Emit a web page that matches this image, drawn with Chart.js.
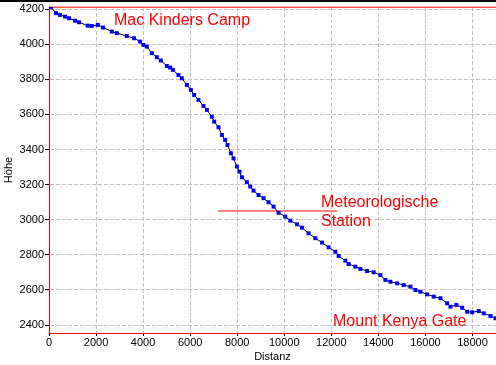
<!DOCTYPE html>
<html>
<head>
<meta charset="utf-8">
<script src="https://cdn.jsdelivr.net/npm/chart.js@4"></script>
<style>
  html, body { margin: 0; padding: 0; background: #fff; }
  canvas { display: block; }
</style>
</head>
<body>
<canvas id="profil" width="496" height="365"></canvas>
<script>
// Höhenprofil: Distanz (m) und Höhe (m)
const distanz = [85, 298, 468, 681, 851, 1106, 1277, 1647, 1817, 2072, 2298, 2668, 2881, 3306, 3617,
  3872, 4013, 4157, 4370, 4583, 4753, 5009, 5149, 5264, 5502, 5647, 5860, 6030, 6170, 6353,
  6566, 6711, 6923, 7021, 7204, 7349, 7489, 7587, 7732, 7843, 7987, 8098, 8200, 8413, 8553,
  8694, 8906, 9119, 9332, 9545, 9757, 10043, 10255, 10540, 10753, 11034, 11319, 11604, 11885, 12170,
  12311, 12596, 12736, 13021, 13234, 13519, 13800, 14085, 14298, 14511, 14796, 15077, 15362, 15574, 15787,
  16072, 16353, 16638, 16923, 17064, 17319, 17562, 17775, 17987, 18268, 18481, 18766, 18979];
const hoehe = [4211, 4177, 4167, 4157, 4148, 4134, 4125, 4106, 4104, 4110, 4095, 4072, 4063, 4047, 4034,
  4015, 3996, 3986, 3949, 3926, 3907, 3876, 3867, 3854, 3825, 3806, 3768, 3740, 3711, 3683,
  3648, 3626, 3587, 3559, 3527, 3483, 3455, 3426, 3379, 3350, 3303, 3274, 3242, 3214, 3189,
  3166, 3141, 3123, 3100, 3075, 3040, 3018, 2995, 2974, 2955, 2923, 2895, 2870, 2843, 2818,
  2794, 2767, 2748, 2733, 2720, 2708, 2701, 2685, 2657, 2647, 2638, 2628, 2619, 2600, 2590,
  2575, 2562, 2553, 2524, 2505, 2515, 2499, 2476, 2473, 2480, 2467, 2452, 2439];

// Wegpunkte (Höhe und Bereich der Markierungslinie)
const wegpunkte = ['Mac Kinders Camp', 'Meteorologische Station', 'Mount Kenya Gate'];
const wegpunktHoehe = [4211, 3050, 2355];
const wegpunktVon = [0, 7190, 0];
const wegpunktBis = [19000, 12260, 19000];

// Achsen
const xTicks = [0, 2000, 4000, 6000, 8000, 10000, 12000, 14000, 16000, 18000];
const yTicks = [2400, 2600, 2800, 3000, 3200, 3400, 3600, 3800, 4000, 4200];
const xMin = 0, xMax = 19000;
const yMin = 2355, yMax = 4212;

const font = '"Liberation Sans", Arial, sans-serif';

const profil = {
  label: 'Höhe',
  data: distanz.map((d, i) => ({ x: d, y: hoehe[i] })),
  borderColor: '#000',
  borderWidth: 1,
  pointStyle: 'rect',
  pointRadius: 2.8,
  pointBorderWidth: 0,
  pointBackgroundColor: '#0000ff',
  tension: 0
};

const markierungen = wegpunkte.slice(0, 2).map((name, i) => ({
  label: name,
  data: [{ x: wegpunktVon[i], y: wegpunktHoehe[i] }, { x: wegpunktBis[i], y: wegpunktHoehe[i] }],
  borderColor: '#ff0000',
  borderWidth: 1,
  pointRadius: 0,
  clip: false
}));

// Beschriftungen der Wegpunkte und Rahmen oben
const beschriftung = {
  id: 'beschriftung',
  beforeDraw(chart) {
    const ctx = chart.ctx;
    ctx.save();
    ctx.fillStyle = '#fff';
    ctx.fillRect(0, 0, chart.width, chart.height);
    ctx.fillStyle = '#000';
    ctx.fillRect(0, 0, chart.width, 2);
    ctx.restore();
  },
  afterDatasetsDraw(chart) {
    const ctx = chart.ctx;
    ctx.save();
    ctx.font = '16px ' + font;
    ctx.fillStyle = '#ff0000';
    ctx.textAlign = 'left';
    ctx.textBaseline = 'alphabetic';
    ctx.fillText('Mac Kinders Camp', 114, 25);
    ctx.fillText('Meteorologische', 321, 207);
    ctx.fillText('Station', 321, 226);
    ctx.fillText('Mount Kenya Gate', 333, 326);
    ctx.restore();
  }
};

const tickFont = { family: font, size: 11 };
const ohneTrenner = v => String(v);

new Chart(document.getElementById('profil'), {
  type: 'line',
  data: { datasets: [profil, ...markierungen] },
  options: {
    responsive: false,
    animation: false,
    layout: { autoPadding: false, padding: { top: 7, right: 0, left: 0, bottom: 0 } },
    plugins: {
      legend: { display: false },
      tooltip: { enabled: false }
    },
    scales: {
      x: {
        type: 'linear',
        min: xMin,
        max: xMax,
        afterBuildTicks: axis => { axis.ticks = xTicks.map(v => ({ value: v })); },
        afterFit: axis => { axis.height = 32; axis.paddingRight = 0; axis.paddingLeft = 0; },
        ticks: { font: tickFont, color: '#000', padding: 0, maxRotation: 0, autoSkip: false, callback: ohneTrenner },
        grid: { color: '#c0c0c0', tickColor: '#000', tickLength: 3, tickBorderDash: [] },
        border: { color: '#ff0000', width: 1, dash: [4, 2] },
        title: { display: true, text: 'Distanz', font: tickFont, color: '#000', padding: { top: 0, bottom: 1 } }
      },
      y: {
        type: 'linear',
        min: yMin,
        max: yMax,
        afterBuildTicks: axis => { axis.ticks = yTicks.map(v => ({ value: v })); },
        afterFit: axis => { axis.width = 49; axis.paddingTop = 0; axis.paddingBottom = 0; },
        ticks: { font: tickFont, color: '#000', padding: 1, callback: ohneTrenner },
        grid: { color: '#c0c0c0', tickColor: '#000', tickLength: 4, tickBorderDash: [] },
        border: { color: '#ff0000', width: 1, dash: [4, 2] },
        title: { display: true, text: 'Höhe', font: tickFont, color: '#000', padding: { top: 2, bottom: 0 } }
      }
    }
  },
  plugins: [beschriftung]
});
</script>
</body>
</html>
